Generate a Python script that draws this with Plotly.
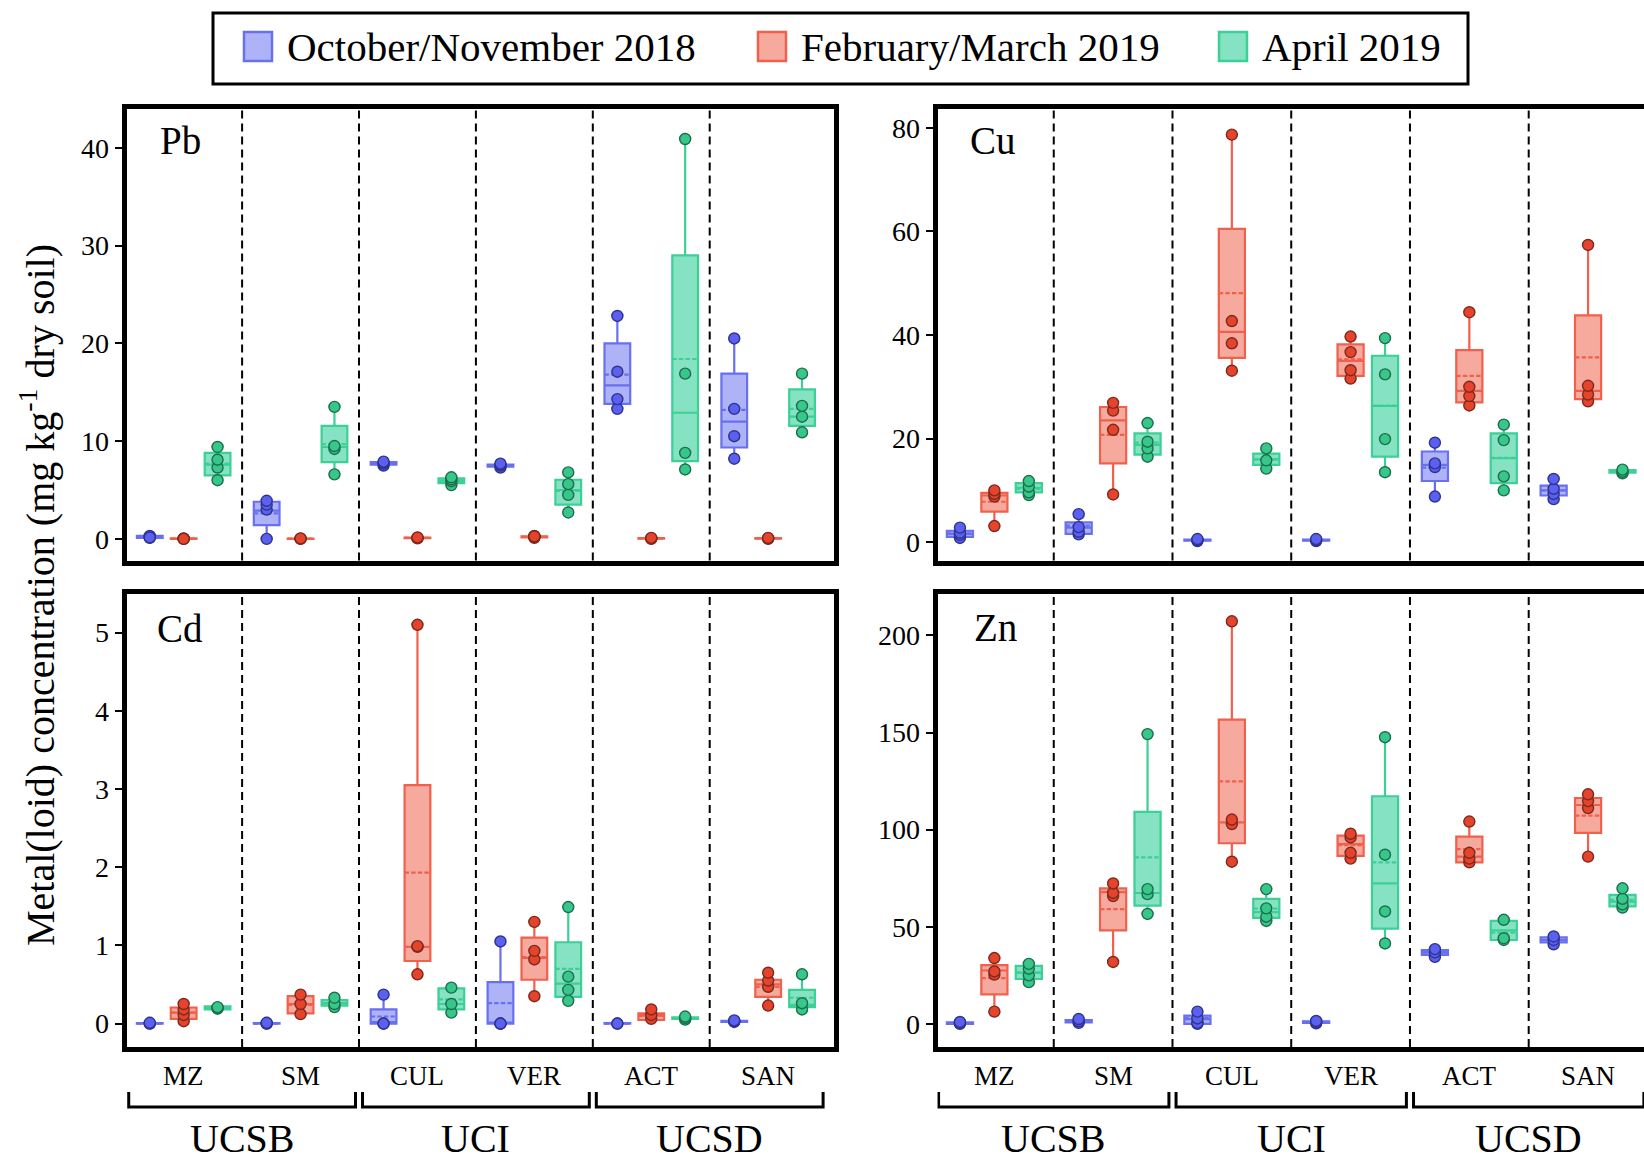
import plotly.graph_objects as go

W, H = 1644, 1160
FONT = "Liberation Serif, Times New Roman, serif"

SITES = ["MZ", "SM", "CUL", "VER", "ACT", "SAN"]
CAMPUSES = ["UCSB", "UCI", "UCSD"]
SEASONS = ["October/November 2018", "February/March 2019", "April 2019"]
METALS = ["Pb", "Cu", "Cd", "Zn"]

# Box statistics per site: (lower whisker, q1, median, mean, q3, upper whisker)
# ---------------- Pb ----------------
PB_OCT = [(0.05, 0.1, 0.2, 0.2, 0.3, 0.35), (0.0, 1.4, 2.9, 2.6, 3.8, 3.9), (7.5, 7.6, 7.7, 7.7, 7.85, 7.9),
          (7.3, 7.4, 7.5, 7.5, 7.6, 7.7), (13.3, 13.8, 15.7, 16.8, 20.0, 22.8), (8.2, 9.35, 12.0, 13.2, 16.9, 20.5)]
PB_OCT_PTS = [[0.1, 0.2, 0.3, 0.15], [0.0, 3.0, 3.5, 3.9], [7.5, 7.7, 7.8, 7.9],
              [7.3, 7.5, 7.6, 7.7], [13.3, 14.3, 17.1, 22.8], [8.2, 10.5, 13.3, 20.5]]
PB_FEB = [(0.0, 0.0, 0.02, 0.02, 0.05, 0.05), (0.0, 0.0, 0.02, 0.02, 0.04, 0.05), (0.05, 0.08, 0.1, 0.1, 0.12, 0.15),
          (0.1, 0.15, 0.2, 0.2, 0.25, 0.3), (0.0, 0.02, 0.05, 0.05, 0.08, 0.1), (0.0, 0.02, 0.05, 0.05, 0.08, 0.1)]
PB_FEB_PTS = [[0.0, 0.02, 0.05, 0.0], [0.0, 0.02, 0.05], [0.05, 0.1, 0.15],
              [0.1, 0.2, 0.3, 0.25], [0.0, 0.05, 0.1], [0.0, 0.05, 0.1]]
PB_APR = [(6.0, 6.5, 7.6, 7.7, 8.8, 9.4), (6.6, 7.85, 9.4, 9.7, 11.55, 13.5), (5.5, 5.7, 5.95, 5.95, 6.2, 6.4),
          (2.7, 3.5, 5.0, 4.9, 6.05, 6.8), (7.1, 7.95, 12.9, 18.4, 29.0, 40.9), (10.9, 11.55, 12.5, 13.3, 15.3, 16.9)]
PB_APR_PTS = [[6.0, 7.3, 8.1, 9.4], [6.6, 9.2, 9.5, 13.5], [5.5, 5.9, 6.1, 6.3],
              [2.7, 4.5, 5.6, 6.8], [7.1, 8.8, 16.9, 40.9], [10.9, 12.5, 13.6, 16.9]]
# ---------------- Cu ----------------
CU_OCT = [(0.8, 1.0, 1.6, 1.7, 2.2, 2.8), (1.5, 1.6, 2.8, 3.2, 3.8, 5.4), (0.2, 0.3, 0.4, 0.4, 0.5, 0.6),
          (0.2, 0.3, 0.4, 0.4, 0.5, 0.6), (8.8, 11.8, 14.9, 14.4, 17.5, 19.2), (8.3, 9.0, 10.0, 10.0, 10.9, 12.2)]
CU_OCT_PTS = [[0.8, 1.4, 1.8, 2.8], [1.5, 2.0, 2.9, 5.4], [0.2, 0.4, 0.6],
              [0.2, 0.4, 0.6], [8.8, 14.5, 15.2, 19.2], [8.3, 9.3, 10.3, 12.2]]
CU_FEB = [(3.1, 5.9, 9.0, 7.8, 9.5, 10.0), (9.2, 15.2, 23.5, 20.7, 26.1, 26.9), (33.1, 35.6, 40.6, 48.1, 60.5, 78.7),
          (31.6, 32.1, 35.0, 35.3, 38.2, 39.7), (26.4, 27.0, 29.2, 32.1, 37.1, 44.4), (27.2, 27.6, 29.2, 35.7, 43.8, 57.4)]
CU_FEB_PTS = [[3.1, 8.8, 9.3, 10.0], [9.2, 21.7, 25.4, 26.9], [33.1, 38.4, 42.7, 78.7],
              [31.6, 33.2, 36.7, 39.7], [26.4, 28.2, 30.0, 44.4], [27.2, 28.5, 30.2, 57.4]]
CU_APR = [(9.1, 9.6, 10.5, 10.3, 11.4, 11.8), (16.5, 16.9, 18.8, 19.2, 21.0, 23.0), (14.2, 14.9, 16.0, 16.0, 17.1, 18.1),
          (13.5, 16.5, 26.3, 26.3, 36.0, 39.4), (10.0, 11.4, 16.2, 16.3, 21.0, 22.7), (13.2, 13.4, 13.6, 13.6, 13.9, 14.0)]
CU_APR_PTS = [[9.1, 9.6, 10.7, 11.8], [16.5, 18.1, 19.4, 23.0], [14.2, 15.8, 18.1],
              [13.5, 19.9, 32.4, 39.4], [10.0, 12.7, 19.7, 22.7], [13.3, 13.6, 14.0]]
# ---------------- Cd ----------------
CD_OCT = [(0.0, 0.0, 0.0, 0.0, 0.005, 0.01), (0.0, 0.0, 0.0, 0.0, 0.005, 0.01), (0.0, 0.0, 0.02, 0.09, 0.18, 0.37),
          (0.0, 0.0, 0.0, 0.26, 0.53, 1.05), (0.0, 0.0, 0.0, 0.0, 0.005, 0.01), (0.02, 0.02, 0.03, 0.03, 0.035, 0.04)]
CD_OCT_PTS = [[0.0, 0.0, 0.01], [0.0, 0.0, 0.01], [0.0, 0.0, 0.37],
              [0.0, 0.0, 0.0, 1.05], [0.0, 0.0], [0.02, 0.03, 0.04]]
CD_FEB = [(0.03, 0.06, 0.14, 0.14, 0.205, 0.25), (0.12, 0.13, 0.25, 0.24, 0.35, 0.37), (0.63, 0.80, 0.98, 1.93, 3.05, 5.1),
          (0.35, 0.56, 0.84, 0.85, 1.10, 1.30), (0.04, 0.045, 0.1, 0.1, 0.13, 0.18), (0.23, 0.34, 0.50, 0.47, 0.56, 0.65)]
CD_FEB_PTS = [[0.03, 0.11, 0.18, 0.25], [0.12, 0.25, 0.37], [0.63, 0.98, 0.99, 5.1],
              [0.35, 0.82, 0.93, 1.30], [0.06, 0.11, 0.18], [0.23, 0.47, 0.55, 0.65]]
CD_APR = [(0.18, 0.18, 0.2, 0.2, 0.22, 0.22), (0.21, 0.23, 0.26, 0.26, 0.30, 0.33), (0.14, 0.18, 0.25, 0.31, 0.45, 0.46),
          (0.29, 0.34, 0.51, 0.70, 1.04, 1.49), (0.05, 0.06, 0.07, 0.07, 0.08, 0.09), (0.17, 0.21, 0.24, 0.33, 0.43, 0.63)]
CD_APR_PTS = [[0.19, 0.2, 0.21], [0.21, 0.25, 0.33], [0.14, 0.25, 0.46],
              [0.29, 0.43, 0.60, 1.49], [0.05, 0.07, 0.09], [0.18, 0.26, 0.63]]
# ---------------- Zn ----------------
ZN_OCT = [(0.0, 0.0, 0.4, 0.4, 0.8, 1.0), (0.5, 0.8, 1.4, 1.4, 2.0, 2.5), (0.0, 0.0, 2.5, 3.0, 4.3, 6.3),
          (0.3, 0.5, 1.0, 1.0, 1.3, 1.5), (34.5, 35.5, 36.8, 36.8, 38.0, 38.5), (41.0, 42.0, 43.2, 43.2, 44.5, 45.0)]
ZN_OCT_PTS = [[0.0, 0.4, 1.0], [0.5, 1.4, 2.5], [0.0, 0.5, 2.8, 6.3],
              [0.3, 1.0, 1.5], [34.5, 36.8, 38.5], [41.0, 43.2, 45.0]]
ZN_FEB = [(6.3, 15.2, 27.5, 23.6, 30.3, 33.9), (31.9, 48.1, 67.8, 59.1, 69.8, 72.3), (83.5, 93.0, 103.8, 124.9, 156.7, 207.3),
          (85.1, 86.5, 92.6, 92.0, 96.9, 97.9), (83.2, 83.2, 86.1, 90.0, 96.4, 104.2), (86.1, 98.3, 112.7, 107.2, 116.3, 118.2)]
ZN_FEB_PTS = [[6.3, 25.4, 27.0, 33.9], [31.9, 65.8, 67.4, 72.3], [83.5, 102.9, 105.2, 207.3],
              [85.1, 88.1, 96.0, 97.9], [83.2, 85.1, 88.1, 104.2], [86.1, 111.1, 114.7, 118.2]]
ZN_APR = [(21.5, 23.1, 26.4, 26.4, 29.9, 30.9), (56.6, 60.9, 67.4, 85.7, 109.2, 149.2), (53.0, 54.6, 57.5, 59.3, 64.4, 69.4),
          (41.4, 49.1, 72.3, 83.2, 117.2, 147.6), (43.2, 43.2, 48.1, 47.0, 53.0, 53.6), (59.9, 60.5, 63.0, 63.9, 66.4, 69.8)]
ZN_APR_PTS = [[21.5, 25.0, 28.4, 30.9], [56.6, 66.8, 69.4, 149.2], [53.0, 55.2, 59.5, 69.4],
              [41.4, 57.9, 87.1, 147.6], [43.2, 44.1, 53.6], [59.9, 61.5, 64.4, 69.8]]

Y_RANGES = {"Pb": [-2.21, 44.02], "Cu": [-3.55, 83.75], "Cd": [-0.30, 5.50], "Zn": [-11.9, 221.6]}
Y_DTICK = {"Pb": 10, "Cu": 20, "Cd": 1, "Zn": 50}

STATS = {
    "Pb": [(PB_OCT, PB_OCT_PTS), (PB_FEB, PB_FEB_PTS), (PB_APR, PB_APR_PTS)],
    "Cu": [(CU_OCT, CU_OCT_PTS), (CU_FEB, CU_FEB_PTS), (CU_APR, CU_APR_PTS)],
    "Cd": [(CD_OCT, CD_OCT_PTS), (CD_FEB, CD_FEB_PTS), (CD_APR, CD_APR_PTS)],
    "Zn": [(ZN_OCT, ZN_OCT_PTS), (ZN_FEB, ZN_FEB_PTS), (ZN_APR, ZN_APR_PTS)],
}

# styles
LINE_COL = ["#6870f0", "#f0604c", "#3ccf96"]
FILL_COL = ["#aeb3f7", "#f5aa9d", "#85e2c2"]
PT_COL = ["#5b61ee", "#e5432c", "#37c78a"]
PT_EDGE = ["#2e3390", "#7d2a1e", "#1d6e4c"]
OFFSETS = [-0.29, 0.0, 0.29]
BOX_W = 0.22


def px(x):
    return x / W


def py(y):
    return 1 - y / H


AXES = {"Pb": ("x", "y"), "Cu": ("x2", "y2"), "Cd": ("x3", "y3"), "Zn": ("x4", "y4")}

fig = go.Figure()
for metal in METALS:
    xa, ya = AXES[metal]
    for s, (stats, pts) in enumerate(STATS[metal]):
        pos = [i + OFFSETS[s] for i in range(len(SITES))]
        fig.add_trace(go.Box(
            x=pos,
            lowerfence=[t[0] for t in stats], q1=[t[1] for t in stats], median=[t[2] for t in stats],
            mean=[t[3] for t in stats], q3=[t[4] for t in stats], upperfence=[t[5] for t in stats],
            boxmean=True, boxpoints=False, width=BOX_W, whiskerwidth=0.45,
            fillcolor=FILL_COL[s], line=dict(color=LINE_COL[s], width=2.2),
            name=SEASONS[s], showlegend=False, xaxis=xa, yaxis=ya, hoverinfo="skip",
        ))
        xs, ys = [], []
        for i, p in enumerate(pts):
            xs += [pos[i]] * len(p)
            ys += p
        fig.add_trace(go.Scatter(
            x=xs, y=ys, mode="markers",
            marker=dict(size=11, color=PT_COL[s], line=dict(color=PT_EDGE[s], width=1.4)),
            showlegend=False, xaxis=xa, yaxis=ya, name=SEASONS[s],
        ))

# geometry (pixels: axis-line centres)
LW = 5
LEFT_X = (124 + LW / 2, 836 - LW / 2)
RIGHT_X = (935 + LW / 2, W)
TOP_Y = (106 + LW / 2, 563 - LW / 2)
BOT_Y = (591 + LW / 2, 1049.5 - LW / 2)
LEFT_XR = [-0.489, 5.559]
RIGHT_XR = [-0.479, 5.471]

common_x = dict(showline=True, linewidth=LW, linecolor="black", showgrid=False, zeroline=False,
                showticklabels=False, ticks="")
common_y = dict(showline=True, linewidth=LW, linecolor="black", showgrid=False, zeroline=False,
                ticks="outside", ticklen=7, tickwidth=2, tickcolor="black",
                tickfont=dict(family=FONT, size=28, color="black"))

layout_axes = {}
panel = {"Pb": (LEFT_X, TOP_Y, LEFT_XR, True), "Cu": (RIGHT_X, TOP_Y, RIGHT_XR, False),
         "Cd": (LEFT_X, BOT_Y, LEFT_XR, True), "Zn": (RIGHT_X, BOT_Y, RIGHT_XR, False)}
for metal in METALS:
    xa, ya = AXES[metal]
    (x0, x1), (y0, y1), xr, mirror_y = panel[metal]
    xkey = "xaxis" + xa[1:]
    ykey = "yaxis" + ya[1:]
    layout_axes[xkey] = dict(common_x, domain=[px(x0), px(x1)], range=xr, anchor=ya, mirror=True)
    layout_axes[ykey] = dict(common_y, domain=[py(y1), py(y0)], range=Y_RANGES[metal], anchor=xa,
                             mirror=mirror_y, dtick=Y_DTICK[metal], tick0=0)

fig.update_layout(
    width=W, height=H, margin=dict(l=0, r=0, t=0, b=0),
    plot_bgcolor="white", paper_bgcolor="white", showlegend=False,
    font=dict(family=FONT, color="black"),
    **layout_axes,
)

shapes = []
annotations = []
# dashed dividers
for metal in METALS:
    xa, ya = AXES[metal]
    for k in range(1, len(SITES)):
        shapes.append(dict(type="line", xref=xa, yref=ya + " domain", x0=k - 0.5, x1=k - 0.5, y0=0, y1=1,
                           line=dict(color="black", width=2, dash="8px,5px")))

# panel labels
LABEL_POS = {"Pb": (180, 140), "Cu": (993, 140), "Cd": (180, 628), "Zn": (995, 627)}
for metal in METALS:
    lx, ly = LABEL_POS[metal]
    annotations.append(dict(text=metal, x=px(lx), y=py(ly), xref="paper", yref="paper", showarrow=False,
                            xanchor="center", yanchor="middle", font=dict(family=FONT, size=39, color="black")))

# site labels, brackets and campus labels under bottom panels
for xa in ["x3", "x4"]:
    for i, site in enumerate(SITES):
        annotations.append(dict(text=site, x=i, y=py(1076), xref=xa, yref="paper", showarrow=False,
                                xanchor="center", yanchor="middle", font=dict(family=FONT, size=27, color="black")))
    for k, campus in enumerate(CAMPUSES):
        bx0, bx1 = 2 * k - 0.47, 2 * k + 1.47
        yt, yb = py(1092), py(1107)
        shapes.append(dict(type="path", xref=xa, yref="paper",
                           path=f"M {bx0},{yt} L {bx0},{yb} L {bx1},{yb} L {bx1},{yt}",
                           line=dict(color="black", width=3)))
        annotations.append(dict(text=campus, x=2 * k + 0.5, y=py(1138), xref=xa, yref="paper", showarrow=False,
                                xanchor="center", yanchor="middle", font=dict(family=FONT, size=40, color="black")))

# y-axis title
annotations.append(dict(text="Metal(loid) concentration (mg kg<sup>-1</sup> dry soil)", x=px(37), y=py(595),
                        xref="paper", yref="paper", showarrow=False, textangle=-90,
                        xanchor="center", yanchor="middle", font=dict(family=FONT, size=40, color="black")))

# legend (manual)
shapes.append(dict(type="rect", xref="paper", yref="paper", x0=px(213), x1=px(1468), y0=py(84), y1=py(13),
                   line=dict(color="black", width=3), fillcolor="white"))
LEG_SW = [244, 758, 1219]
for s, season in enumerate(SEASONS):
    sx = LEG_SW[s]
    shapes.append(dict(type="rect", xref="paper", yref="paper", x0=px(sx), x1=px(sx + 28), y0=py(61), y1=py(32),
                       line=dict(color=LINE_COL[s], width=2.5), fillcolor=FILL_COL[s]))
    annotations.append(dict(text=season, x=px(sx + 41), y=py(47), xref="paper", yref="paper", showarrow=False,
                            xanchor="left", yanchor="middle", font=dict(family=FONT, size=41, color="black")))

fig.update_layout(shapes=shapes, annotations=annotations)
fig.write_html("out.html")
